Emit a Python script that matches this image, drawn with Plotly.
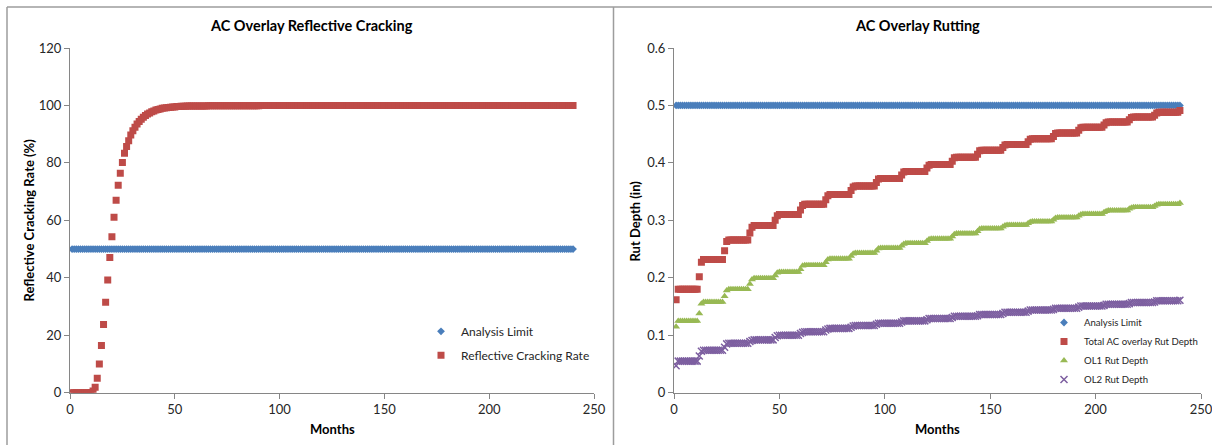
import plotly.graph_objects as go

# ---------------------------------------------------------------- data
months = list(range(1, 241))

analysis_limit_pct = [50.0] * 240
analysis_limit_in = [0.5] * 240

# Reflective cracking rate (%), one row per year (months 1-12, 13-24, ...)
crack_rate_pct = [
    0.0, 0.0, 0.0, 0.0, 0.0, 0.0, 0.0, 0.0, 0.0, 0.1, 0.6, 1.9,
    5.0, 10.0, 16.4, 23.7, 31.5, 39.2, 47.1, 54.3, 61.1, 67.0, 72.2, 76.4,
    80.1, 83.4, 85.7, 87.7, 89.7, 91.2, 92.4, 93.5, 94.4, 95.2, 95.9, 96.5,
    97.0, 97.4, 97.8, 98.1, 98.4, 98.6, 98.8, 99.0, 99.1, 99.2, 99.3, 99.4,
    99.5, 99.5, 99.6, 99.6, 99.7, 99.7, 99.7, 99.8, 99.8, 99.8, 99.8, 99.8,
    99.8, 99.8, 99.8, 99.8, 99.8, 99.9, 99.9, 99.9, 99.9, 99.9, 99.9, 99.9,
    99.9, 99.9, 99.9, 99.9, 99.9, 99.9, 99.9, 99.9, 99.9, 99.9, 99.9, 99.9,
    99.9, 99.9, 99.9, 99.9, 99.9, 99.9, 100.0, 100.0, 100.0, 100.0, 100.0, 100.0,
    100.0, 100.0, 100.0, 100.0, 100.0, 100.0, 100.0, 100.0, 100.0, 100.0, 100.0, 100.0,
    100.0, 100.0, 100.0, 100.0, 100.0, 100.0, 100.0, 100.0, 100.0, 100.0, 100.0, 100.0,
    100.0, 100.0, 100.0, 100.0, 100.0, 100.0, 100.0, 100.0, 100.0, 100.0, 100.0, 100.0,
    100.0, 100.0, 100.0, 100.0, 100.0, 100.0, 100.0, 100.0, 100.0, 100.0, 100.0, 100.0,
    100.0, 100.0, 100.0, 100.0, 100.0, 100.0, 100.0, 100.0, 100.0, 100.0, 100.0, 100.0,
    100.0, 100.0, 100.0, 100.0, 100.0, 100.0, 100.0, 100.0, 100.0, 100.0, 100.0, 100.0,
    100.0, 100.0, 100.0, 100.0, 100.0, 100.0, 100.0, 100.0, 100.0, 100.0, 100.0, 100.0,
    100.0, 100.0, 100.0, 100.0, 100.0, 100.0, 100.0, 100.0, 100.0, 100.0, 100.0, 100.0,
    100.0, 100.0, 100.0, 100.0, 100.0, 100.0, 100.0, 100.0, 100.0, 100.0, 100.0, 100.0,
    100.0, 100.0, 100.0, 100.0, 100.0, 100.0, 100.0, 100.0, 100.0, 100.0, 100.0, 100.0,
    100.0, 100.0, 100.0, 100.0, 100.0, 100.0, 100.0, 100.0, 100.0, 100.0, 100.0, 100.0,
    100.0, 100.0, 100.0, 100.0, 100.0, 100.0, 100.0, 100.0, 100.0, 100.0, 100.0, 100.0,
]

# Total AC overlay rut depth (in), one row per year
total_rut_in = [
    0.162, 0.180, 0.180, 0.180, 0.180, 0.180, 0.180, 0.180, 0.180, 0.180, 0.180, 0.202,
    0.227, 0.232, 0.232, 0.232, 0.232, 0.232, 0.232, 0.232, 0.232, 0.232, 0.232, 0.247,
    0.263, 0.266, 0.266, 0.266, 0.266, 0.266, 0.266, 0.266, 0.266, 0.266, 0.266, 0.278,
    0.288, 0.291, 0.291, 0.291, 0.291, 0.291, 0.291, 0.291, 0.291, 0.291, 0.291, 0.300,
    0.308, 0.310, 0.310, 0.310, 0.310, 0.310, 0.310, 0.310, 0.310, 0.310, 0.310, 0.318,
    0.326, 0.328, 0.328, 0.328, 0.328, 0.328, 0.328, 0.328, 0.328, 0.328, 0.328, 0.336,
    0.343, 0.345, 0.345, 0.345, 0.345, 0.345, 0.345, 0.345, 0.345, 0.345, 0.345, 0.352,
    0.358, 0.360, 0.360, 0.360, 0.360, 0.360, 0.360, 0.360, 0.360, 0.360, 0.360, 0.366,
    0.372, 0.373, 0.373, 0.373, 0.373, 0.373, 0.373, 0.373, 0.373, 0.373, 0.373, 0.379,
    0.384, 0.385, 0.385, 0.385, 0.385, 0.385, 0.385, 0.385, 0.385, 0.385, 0.385, 0.391,
    0.396, 0.397, 0.397, 0.397, 0.397, 0.397, 0.397, 0.397, 0.397, 0.397, 0.397, 0.403,
    0.409, 0.410, 0.410, 0.410, 0.410, 0.410, 0.410, 0.410, 0.410, 0.410, 0.410, 0.415,
    0.421, 0.422, 0.422, 0.422, 0.422, 0.422, 0.422, 0.422, 0.422, 0.422, 0.422, 0.427,
    0.431, 0.432, 0.432, 0.432, 0.432, 0.432, 0.432, 0.432, 0.432, 0.432, 0.432, 0.437,
    0.441, 0.442, 0.442, 0.442, 0.442, 0.442, 0.442, 0.442, 0.442, 0.442, 0.442, 0.446,
    0.451, 0.452, 0.452, 0.452, 0.452, 0.452, 0.452, 0.452, 0.452, 0.452, 0.452, 0.457,
    0.461, 0.462, 0.462, 0.462, 0.462, 0.462, 0.462, 0.462, 0.462, 0.462, 0.462, 0.466,
    0.470, 0.471, 0.471, 0.471, 0.471, 0.471, 0.471, 0.471, 0.471, 0.471, 0.471, 0.475,
    0.479, 0.480, 0.480, 0.480, 0.480, 0.480, 0.480, 0.480, 0.480, 0.480, 0.480, 0.483,
    0.487, 0.488, 0.488, 0.488, 0.488, 0.488, 0.488, 0.488, 0.488, 0.488, 0.488, 0.491,
]

# OL1 rut depth (in), one row per year
ol1_rut_in = [
    0.115, 0.125, 0.125, 0.125, 0.125, 0.125, 0.125, 0.125, 0.125, 0.125, 0.125, 0.138,
    0.155, 0.158, 0.158, 0.158, 0.158, 0.158, 0.158, 0.158, 0.158, 0.158, 0.158, 0.168,
    0.178, 0.180, 0.180, 0.180, 0.180, 0.180, 0.180, 0.180, 0.180, 0.180, 0.180, 0.189,
    0.197, 0.199, 0.199, 0.199, 0.199, 0.199, 0.199, 0.199, 0.199, 0.199, 0.199, 0.204,
    0.209, 0.210, 0.210, 0.210, 0.210, 0.210, 0.210, 0.210, 0.210, 0.210, 0.210, 0.215,
    0.221, 0.222, 0.222, 0.222, 0.222, 0.222, 0.222, 0.222, 0.222, 0.222, 0.222, 0.227,
    0.232, 0.233, 0.233, 0.233, 0.233, 0.233, 0.233, 0.233, 0.233, 0.233, 0.233, 0.238,
    0.242, 0.243, 0.243, 0.243, 0.243, 0.243, 0.243, 0.243, 0.243, 0.243, 0.243, 0.247,
    0.251, 0.252, 0.252, 0.252, 0.252, 0.252, 0.252, 0.252, 0.252, 0.252, 0.252, 0.256,
    0.259, 0.260, 0.260, 0.260, 0.260, 0.260, 0.260, 0.260, 0.260, 0.260, 0.260, 0.264,
    0.267, 0.268, 0.268, 0.268, 0.268, 0.268, 0.268, 0.268, 0.268, 0.268, 0.268, 0.272,
    0.276, 0.277, 0.277, 0.277, 0.277, 0.277, 0.277, 0.277, 0.277, 0.277, 0.277, 0.281,
    0.285, 0.286, 0.286, 0.286, 0.286, 0.286, 0.286, 0.286, 0.286, 0.286, 0.286, 0.289,
    0.291, 0.292, 0.292, 0.292, 0.292, 0.292, 0.292, 0.292, 0.292, 0.292, 0.292, 0.295,
    0.297, 0.298, 0.298, 0.298, 0.298, 0.298, 0.298, 0.298, 0.298, 0.298, 0.298, 0.301,
    0.304, 0.305, 0.305, 0.305, 0.305, 0.305, 0.305, 0.305, 0.305, 0.305, 0.305, 0.308,
    0.310, 0.311, 0.311, 0.311, 0.311, 0.311, 0.311, 0.311, 0.311, 0.311, 0.311, 0.314,
    0.316, 0.317, 0.317, 0.317, 0.317, 0.317, 0.317, 0.317, 0.317, 0.317, 0.317, 0.320,
    0.322, 0.323, 0.323, 0.323, 0.323, 0.323, 0.323, 0.323, 0.323, 0.323, 0.323, 0.325,
    0.327, 0.328, 0.328, 0.328, 0.328, 0.328, 0.328, 0.328, 0.328, 0.328, 0.328, 0.330,
]

# OL2 rut depth (in), one row per year
ol2_rut_in = [
    0.047, 0.055, 0.055, 0.055, 0.055, 0.055, 0.055, 0.055, 0.055, 0.055, 0.055, 0.064,
    0.072, 0.074, 0.074, 0.074, 0.074, 0.074, 0.074, 0.074, 0.074, 0.074, 0.074, 0.079,
    0.085, 0.086, 0.086, 0.086, 0.086, 0.086, 0.086, 0.086, 0.086, 0.086, 0.086, 0.089,
    0.091, 0.092, 0.092, 0.092, 0.092, 0.092, 0.092, 0.092, 0.092, 0.092, 0.092, 0.096,
    0.099, 0.100, 0.100, 0.100, 0.100, 0.100, 0.100, 0.100, 0.100, 0.100, 0.100, 0.103,
    0.105, 0.106, 0.106, 0.106, 0.106, 0.106, 0.106, 0.106, 0.106, 0.106, 0.106, 0.109,
    0.111, 0.112, 0.112, 0.112, 0.112, 0.112, 0.112, 0.112, 0.112, 0.112, 0.112, 0.114,
    0.116, 0.117, 0.117, 0.117, 0.117, 0.117, 0.117, 0.117, 0.117, 0.117, 0.117, 0.119,
    0.121, 0.121, 0.121, 0.121, 0.121, 0.121, 0.121, 0.121, 0.121, 0.121, 0.121, 0.123,
    0.125, 0.125, 0.125, 0.125, 0.125, 0.125, 0.125, 0.125, 0.125, 0.125, 0.125, 0.127,
    0.129, 0.129, 0.129, 0.129, 0.129, 0.129, 0.129, 0.129, 0.129, 0.129, 0.129, 0.131,
    0.133, 0.133, 0.133, 0.133, 0.133, 0.133, 0.133, 0.133, 0.133, 0.133, 0.133, 0.134,
    0.136, 0.136, 0.136, 0.136, 0.136, 0.136, 0.136, 0.136, 0.136, 0.136, 0.136, 0.138,
    0.140, 0.140, 0.140, 0.140, 0.140, 0.140, 0.140, 0.140, 0.140, 0.140, 0.140, 0.142,
    0.144, 0.144, 0.144, 0.144, 0.144, 0.144, 0.144, 0.144, 0.144, 0.144, 0.144, 0.145,
    0.147, 0.147, 0.147, 0.147, 0.147, 0.147, 0.147, 0.147, 0.147, 0.147, 0.147, 0.149,
    0.151, 0.151, 0.151, 0.151, 0.151, 0.151, 0.151, 0.151, 0.151, 0.151, 0.151, 0.152,
    0.154, 0.154, 0.154, 0.154, 0.154, 0.154, 0.154, 0.154, 0.154, 0.154, 0.154, 0.155,
    0.157, 0.157, 0.157, 0.157, 0.157, 0.157, 0.157, 0.157, 0.157, 0.157, 0.157, 0.158,
    0.160, 0.160, 0.160, 0.160, 0.160, 0.160, 0.160, 0.160, 0.160, 0.160, 0.160, 0.161,
]

x_ticks = [0, 50, 100, 150, 200, 250]
crack_ticks = [0, 20, 40, 60, 80, 100, 120]
rut_ticks = [0, 0.1, 0.2, 0.3, 0.4, 0.5, 0.6]

# ---------------------------------------------------------------- style
W, H = 1212, 445
FONT = "Lato, 'Open Sans', sans-serif"
TEXT = "#262626"
AXIS = "#868686"
FRAME = "#9d9d9d"
BLUE, RED, GREEN, PURPLE = "#4A7EBB", "#BE4B48", "#98B954", "#7D5FA0"


def fx(p):
    return p / W


def fy(p):
    return 1 - p / H


y_dom = [fy(392.7), fy(48)]
left_dom = [fx(70), fx(594)]
right_dom = [fx(674), fx(1201)]

fig = go.Figure()

# left panel: reflective cracking
fig.add_trace(go.Scatter(
    x=months, y=analysis_limit_pct, mode="markers", name="Analysis Limit",
    marker=dict(symbol="diamond", size=6, color=BLUE),
    xaxis="x", yaxis="y", legend="legend", legendgroup="a1"))
fig.add_trace(go.Scatter(
    x=months, y=crack_rate_pct, mode="markers", name="Reflective Cracking Rate",
    marker=dict(symbol="square", size=7, color=RED),
    xaxis="x", yaxis="y", legend="legend", legendgroup="a2"))

# right panel: rutting
fig.add_trace(go.Scatter(
    x=months, y=analysis_limit_in, mode="markers", name="Analysis Limit",
    marker=dict(symbol="diamond", size=6, color=BLUE),
    xaxis="x2", yaxis="y2", legend="legend2", legendgroup="b1"))
fig.add_trace(go.Scatter(
    x=months, y=total_rut_in, mode="markers", name="Total AC overlay Rut Depth",
    marker=dict(symbol="square", size=7, color=RED),
    xaxis="x2", yaxis="y2", legend="legend2", legendgroup="b2"))
fig.add_trace(go.Scatter(
    x=months, y=ol1_rut_in, mode="markers", name="OL1 Rut Depth",
    marker=dict(symbol="triangle-up", size=7, color=GREEN),
    xaxis="x2", yaxis="y2", legend="legend2", legendgroup="b3"))
fig.add_trace(go.Scatter(
    x=months, y=ol2_rut_in, mode="markers", name="OL2 Rut Depth",
    marker=dict(symbol="x-thin", size=7, color=PURPLE,
                line=dict(color=PURPLE, width=1.5)),
    xaxis="x2", yaxis="y2", legend="legend2", legendgroup="b4"))

axis_common = dict(
    showline=True, linecolor=AXIS, linewidth=1, mirror=False,
    ticks="outside", ticklen=5, tickcolor=AXIS, tickwidth=1,
    showgrid=False, zeroline=False, fixedrange=True, automargin=False,
    ticklabeloverflow="allow",
    tickfont=dict(family=FONT, size=13, color=TEXT),
)

fig.update_layout(
    width=W, height=H,
    margin=dict(l=0, r=0, t=0, b=0, autoexpand=False),
    paper_bgcolor="white", plot_bgcolor="white",
    font=dict(family=FONT, color=TEXT),
    xaxis=dict(domain=left_dom, anchor="y", range=[0, 250],
               tickvals=x_ticks, **axis_common),
    yaxis=dict(domain=y_dom, anchor="x", range=[0, 120],
               tickvals=crack_ticks, **axis_common),
    xaxis2=dict(domain=right_dom, anchor="y2", range=[0, 250],
                tickvals=x_ticks, **axis_common),
    yaxis2=dict(domain=y_dom, anchor="x2", range=[0, 0.6],
                tickvals=rut_ticks, **axis_common),
    legend=dict(x=fx(421), y=fy(316.8), xanchor="left", yanchor="top",
                bgcolor="rgba(0,0,0,0)", tracegroupgap=5,
                font=dict(family=FONT, size=12, color=TEXT)),
    legend2=dict(x=fx(1044), y=fy(308), xanchor="left", yanchor="top",
                 bgcolor="rgba(0,0,0,0)", tracegroupgap=0,
                 font=dict(family=FONT, size=9.6, color=TEXT)),
    showlegend=True,
)

# chart titles and axis titles
annotations = [
    dict(text="<b>AC Overlay Reflective Cracking</b>", x=fx(311), y=fy(25),
         font=dict(size=14.5)),
    dict(text="<b>AC Overlay Rutting</b>", x=fx(917), y=fy(25),
         font=dict(size=14.5)),
    dict(text="<b>Months</b>", x=fx(332), y=fy(429), font=dict(size=13)),
    dict(text="<b>Months</b>", x=fx(937.5), y=fy(429), font=dict(size=13)),
    dict(text="<b>Reflective Cracking Rate (%)</b>", x=fx(28), y=fy(220.5),
         textangle=-90, font=dict(size=13)),
    dict(text="<b>Rut Depth (in)</b>", x=fx(634), y=fy(220.5),
         textangle=-90, font=dict(size=13)),
]
for a in annotations:
    a.update(xref="paper", yref="paper", xanchor="center", yanchor="middle",
             showarrow=False)
    a["font"].update(family=FONT, color="#000000")
fig.update_layout(annotations=annotations)

# chart-area frames
frame = dict(type="line", xref="paper", yref="paper",
             line=dict(color=FRAME, width=1.5))
fig.update_layout(shapes=[
    dict(frame, x0=fx(7), x1=1, y0=fy(7), y1=fy(7)),
    dict(frame, x0=fx(7), x1=fx(7), y0=fy(7), y1=0),
    dict(frame, x0=fx(613.5), x1=fx(613.5), y0=fy(7), y1=0),
])

fig.write_html("out.html")
